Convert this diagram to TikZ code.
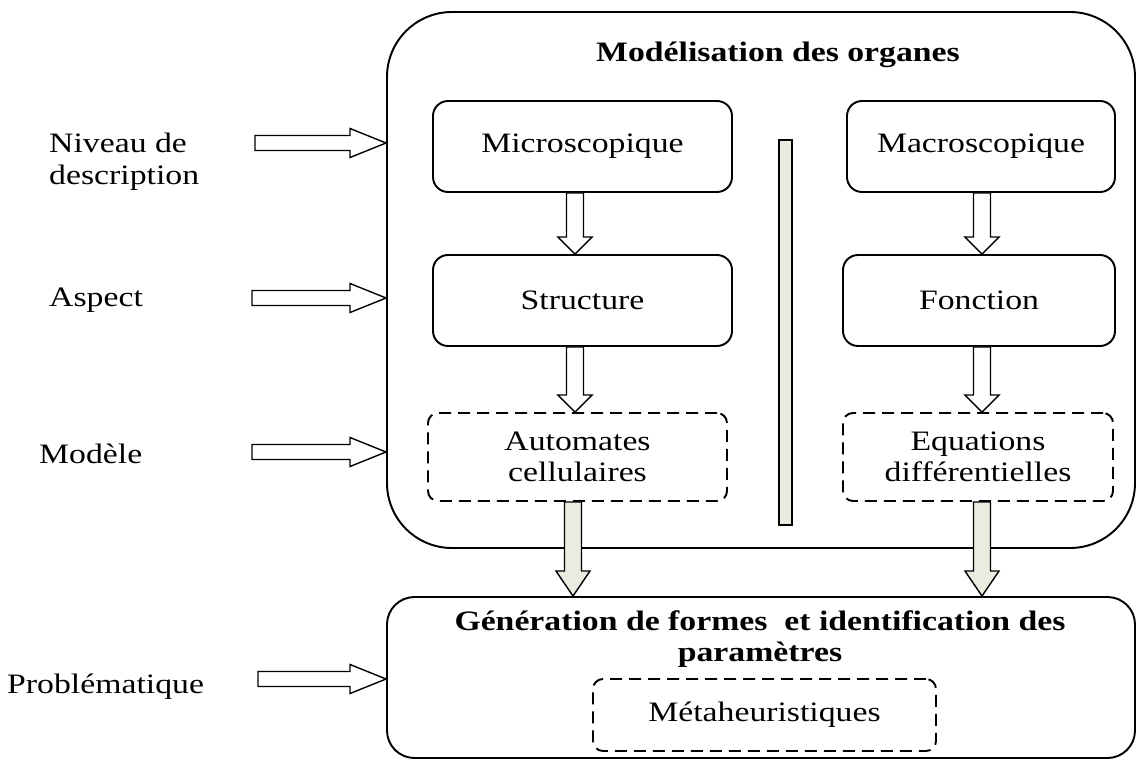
\documentclass[tikz,border=0pt]{standalone}
\usepackage{fontspec}
\setmainfont{Liberation Serif}[FakeStretch=1.2]
\usepackage{tikz}
\usetikzlibrary{positioning,calc}
\definecolor{beige}{RGB}{236,235,224}
\newcommand{\droite}[2]{\draw[hollow] ($(#1)+(0,-7.5)$) -- ($(#2)+(-36,-7.5)$) -- ($(#2)+(-36,-14.5)$) -- (#2) -- ($(#2)+(-36,14.5)$) -- ($(#2)+(-36,7.5)$) -- ($(#1)+(0,7.5)$) -- cycle;}
\newcommand{\bas}[4][hollow]{\draw[#1] ($(#2)+(-8.5,0)$) -- ($(#3)+(-8.5,-#4)$) -- ($(#3)+(-17,-#4)$) -- (#3) -- ($(#3)+(17,-#4)$) -- ($(#3)+(8.5,-#4)$) -- ($(#2)+(8.5,0)$) -- cycle;}

\begin{document}
\begin{tikzpicture}[x=0.2mm,y=-0.2mm,font=\fontsize{16}{18}\selectfont,
	boite/.style={draw,line width=1.1pt,rounded corners=3mm,minimum height=18.2mm},
	tirets/.style={draw,line width=1.1pt,dash pattern=on 2.4mm off 1.4mm,rounded corners=2mm,align=center},
	hollow/.style={draw,line width=0.8pt,fill=white},
	plein/.style={draw,line width=0.8pt,fill=beige}]
		\useasboundingbox (0,0) rectangle (1138,760);
		\node[draw,line width=1.1pt,rounded corners=13mm,minimum width=149.6mm,minimum height=107.2mm] (organes) at (761,280) {};
		\node[font=\fontsize{16}{18}\selectfont\bfseries] (titre) at (778,55) {Modélisation des organes};
		\node[boite,minimum width=59.8mm] (micro) at (582.5,146.5) {Microscopique};
		\node[boite,minimum width=53.6mm] (macro) at (981,146.5) {Macroscopique};
		\node[boite,minimum width=59.8mm] (structure) at (582.5,300.5) {Structure};
		\node[boite,minimum width=54.4mm] (fonction) at (979,300.5) {Fonction};
		\node[tirets,minimum width=59.8mm,minimum height=17.6mm] (automates) at (577.5,457) {Automates\\cellulaires};
		\node[tirets,minimum width=54mm,minimum height=17.6mm] (equations) at (978,457) {Equations\\différentielles};
		\node[draw,line width=0.9pt,fill=beige,minimum width=2.6mm,minimum height=77mm,inner sep=0pt] (barre) at (785.5,332.5) {};
		\node[draw,line width=1.1pt,rounded corners=5.5mm,minimum width=149.6mm,minimum height=32.2mm] (generation) at (761,677.5) {};
		\node[font=\fontsize{16}{18}\selectfont\bfseries,align=center] (titre2) at (760,639) {Génération de formes~ et identification des\\paramètres};
		\node[tirets,minimum width=68.6mm,minimum height=14.4mm] (meta) at (764.5,715) {Métaheuristiques};
		\node[anchor=west,align=left] (niveau) at (43,162) {Niveau de\\description};
		\node[anchor=base west] (aspect) at (43,306) {Aspect};
		\node[anchor=base west] (modele) at (33,463) {Modèle};
		\node[anchor=base west] (probleme) at (1,693) {Problématique};
		\coordinate (c1) at (255,143);
		\coordinate (c2) at (252,298);
		\coordinate (c3) at (252,452);
		\coordinate (c4) at (258,679);
		\coordinate (gauche) at (575,0);
		\coordinate (milieu) at (573,0);
		\coordinate (droit) at (982,0);
		\droite{c1}{organes.west |- c1}
		\droite{c2}{organes.west |- c2}
		\droite{c3}{organes.west |- c3}
		\droite{c4}{generation.west |- c4}
		\bas{gauche |- micro.south}{gauche |- structure.north}{17}
		\bas{gauche |- structure.south}{gauche |- automates.north}{17}
		\bas{droit |- macro.south}{droit |- fonction.north}{17}
		\bas{droit |- fonction.south}{droit |- equations.north}{17}
		\bas[plein]{milieu |- automates.south}{milieu |- generation.north}{25}
		\bas[plein]{droit |- equations.south}{droit |- generation.north}{25}
\end{tikzpicture}
\end{document}
